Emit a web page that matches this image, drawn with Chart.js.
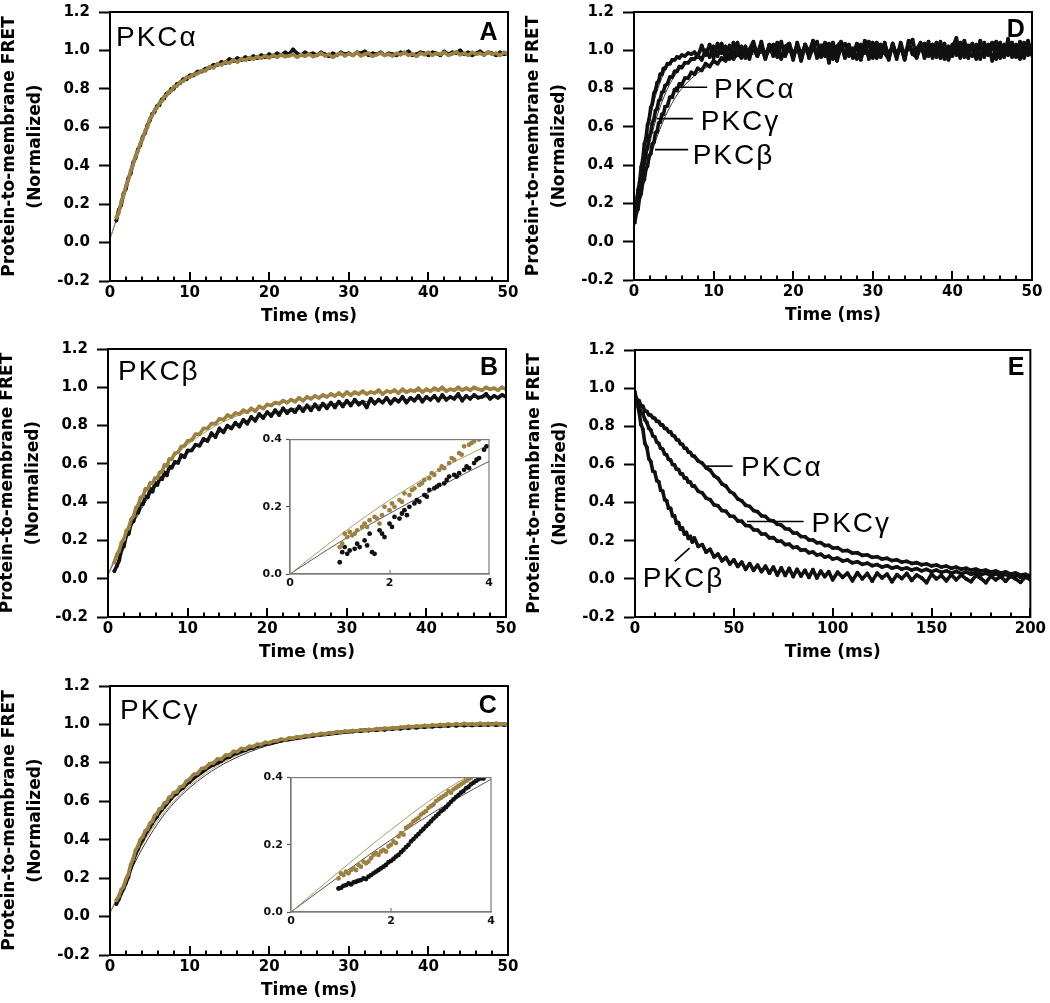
<!DOCTYPE html>
<html><head><meta charset="utf-8">
<script src="https://cdn.jsdelivr.net/npm/chart.js@4.4.1/dist/chart.umd.min.js"></script>
<style>
html,body{margin:0;padding:0;background:#fff;}
#fig{position:relative;width:1050px;height:1003px;overflow:hidden;background:#fff;}
canvas{position:absolute;}
</style></head><body>
<div id="fig">
<canvas id="cA" width="528" height="333" style="left:-4px;top:-6px"></canvas>
<canvas id="cD" width="528" height="332" style="left:520px;top:-6px"></canvas>
<canvas id="cB" width="528" height="332" style="left:-6px;top:331px"></canvas>
<canvas id="cE" width="528" height="331" style="left:521px;top:332px"></canvas>
<canvas id="cC" width="528" height="333" style="left:-4px;top:668px"></canvas>
<canvas id="cBi" width="239" height="165" style="left:258px;top:429px"></canvas>
<canvas id="cCi" width="240" height="165" style="left:259px;top:767px"></canvas>
</div>
<script>
// ---------------- tick labels / texts ----------------
const TITLE_Y = ['Protein-to-membrane FRET', '(Normalized)'];
const TITLE_X = 'Time (ms)';
const Y_TICKS = [-0.2, 0, 0.2, 0.4, 0.6, 0.8, 1.0, 1.2];
const Y_TICK_LABELS = ['-0.2', '0.0', '0.2', '0.4', '0.6', '0.8', '1.0', '1.2'];
const X_TICKS_50 = [0, 10, 20, 30, 40, 50];
const X_MINOR_50 = [2, 4, 6, 8, 12, 14, 16, 18, 22, 24, 26, 28, 32, 34, 36, 38, 42, 44, 46, 48];
const X_TICKS_200 = [0, 50, 100, 150, 200];
const X_MINOR_200 = [10, 20, 30, 40, 60, 70, 80, 90, 110, 120, 130, 140, 160, 170, 180, 190];
const INSET_X_TICKS = [0, 2, 4];
const INSET_Y_TICKS = [0, 0.2, 0.4];
const INSET_Y_LABELS = ['0.0', '0.2', '0.4'];

// ---------------- panels A, B, C (time in ms) ----------------
const TIME_ABC = [0.8,1.1,1.4,1.7,2.0,2.3,2.6,2.9,3.2,3.5,
 3.8,4.1,4.4,4.7,5.0,5.3,5.6,5.9,6.2,6.5,
 6.8,7.1,7.4,7.7,8.0,8.4,8.8,9.2,9.6,10.0,
 10.5,11,11.5,12,12.5,13,13.5,14,14.5,15,
 15.5,16,16.5,17,17.5,18,18.5,19,19.5,20,
 20.5,21,21.5,22,22.5,23,23.5,24,24.5,25,
 25.5,26,26.5,27,27.5,28,28.5,29,29.5,30,
 30.5,31,31.5,32,32.5,33,33.5,34,34.5,35,
 35.5,36,36.5,37,37.5,38,38.5,39,39.5,40,
 40.5,41,41.5,42,42.5,43,43.5,44,44.5,45,
 45.5,46,46.5,47,47.5,48,48.5,49,49.5,50];

const A_GOLD = [.13,.155,.21,.245,.295,.325,.375,.405,.45,.475,
 .515,.54,.58,.60,.645,.66,.69,.70,.725,.735,
 .76,.765,.785,.79,.81,.815,.835,.84,.86,.86,
 .875,.88,.895,.895,.915,.91,.93,.925,.94,.935,
 .95,.94,.955,.95,.962,.955,.968,.96,.972,.962,
 .975,.965,.978,.968,.972,.98,.965,.978,.97,.982,
 .968,.975,.985,.972,.98,.965,.978,.985,.972,.982,
 .975,.99,.972,.98,.985,.97,.978,.986,.975,.98,
 .972,.985,.978,.99,.975,.982,.97,.985,.978,.99,
 .975,.985,.98,.99,.975,.982,.992,.978,.985,.975,
 .99,.98,.985,.975,.992,.98,.985,.975,.99,.982];
const A_BLACK = [.115,.17,.195,.255,.28,.335,.36,.415,.44,.485,
 .505,.55,.57,.61,.635,.67,.68,.71,.715,.745,
 .75,.775,.78,.80,.80,.825,.83,.85,.85,.87,
 .87,.89,.89,.905,.91,.925,.925,.94,.935,.955,
 .945,.96,.95,.965,.955,.97,.96,.975,.965,.98,
 .97,.985,.975,.99,.98,1.005,.985,.975,.99,.98,
 .985,.975,.99,.98,.97,.985,.975,.99,.98,.985,
 .975,.99,.985,.995,.975,.985,.98,.99,.975,.985,
 .98,.975,.99,.985,.995,.975,.98,.99,.985,.975,
 .99,.985,.975,.995,.98,.99,.985,1.0,.98,.99,
 .975,.985,.995,.98,.99,.985,.975,.99,.98,.985];

const B_GOLD = [.085,.125,.145,.19,.205,.25,.265,.31,.325,.37,
 .385,.425,.43,.47,.47,.50,.50,.525,.525,.555,
 .56,.595,.59,.625,.625,.655,.66,.69,.695,.72,
 .725,.755,.755,.785,.785,.81,.81,.835,.83,.855,
 .845,.865,.86,.88,.87,.89,.875,.9,.89,.91,
 .905,.92,.915,.93,.92,.935,.925,.945,.93,.95,
 .94,.955,.945,.96,.95,.965,.955,.97,.955,.975,
 .96,.975,.965,.98,.965,.975,.97,.985,.965,.98,
 .975,.985,.97,.99,.975,.985,.98,.995,.975,.99,
 .98,.995,.985,1.0,.98,.99,.985,1.0,.985,.995,
 .985,1.0,.99,.985,1.0,.99,.995,.985,1.0,.99];
const B_BLACK = [.04,.065,.095,.15,.17,.225,.235,.29,.30,.35,
 .345,.39,.39,.43,.425,.47,.455,.5,.49,.525,
 .52,.555,.54,.585,.58,.61,.605,.645,.635,.67,
 .67,.70,.695,.73,.72,.76,.74,.785,.765,.80,
 .785,.815,.795,.83,.81,.845,.825,.86,.84,.87,
 .85,.88,.855,.89,.865,.885,.87,.9,.875,.905,
 .88,.91,.885,.915,.89,.92,.895,.925,.9,.93,
 .905,.935,.91,.925,.895,.94,.915,.935,.92,.945,
 .915,.94,.925,.95,.92,.945,.93,.955,.925,.95,
 .935,.955,.93,.96,.935,.95,.94,.965,.93,.955,
 .94,.96,.945,.95,.965,.94,.955,.945,.96,.95];

const C_GOLD = [.085,.105,.14,.155,.195,.22,.27,.30,.345,.365,
 .40,.415,.445,.455,.485,.495,.525,.535,.56,.565,
 .59,.595,.62,.625,.645,.65,.675,.68,.705,.715,
 .74,.745,.77,.775,.795,.80,.82,.82,.84,.84,
 .86,.858,.875,.872,.886,.885,.897,.895,.907,.905,
 .913,.915,.923,.92,.93,.928,.936,.934,.942,.94,
 .948,.946,.953,.95,.957,.955,.962,.958,.965,.963,
 .968,.966,.972,.969,.974,.972,.978,.975,.98,.977,
 .983,.98,.986,.984,.99,.987,.992,.989,.995,.991,
 .997,.994,.999,.996,1.002,.997,1.004,.998,1.005,.999,
 1.004,.998,1.006,1.0,1.005,.999,1.006,1.001,1.004,1.0];
const C_BLACK = [.065,.09,.12,.145,.175,.205,.25,.285,.325,.35,
 .38,.40,.425,.445,.465,.485,.505,.52,.54,.555,
 .57,.585,.60,.615,.63,.64,.66,.67,.69,.70,
 .72,.735,.75,.765,.78,.79,.80,.81,.825,.83,
 .845,.85,.86,.865,.875,.878,.888,.89,.898,.9,
 .905,.91,.915,.918,.922,.925,.928,.932,.935,.938,
 .94,.944,.946,.948,.95,.953,.955,.958,.96,.962,
 .963,.966,.965,.97,.968,.972,.97,.975,.972,.978,
 .976,.98,.978,.984,.98,.986,.983,.989,.985,.99,
 .988,.993,.99,.995,.992,.997,.993,.998,.994,.999,
 .995,1.0,.996,1.0,.997,1.002,.996,1.001,.997,1.0];

const FIT_TIME_ABC = [0,0.5,1,2,3,4,5,6,8,10,12,15,20,25,30,40,50];
const A_FIT_GOLD  = [0.02,0.085,0.15,0.285,0.42,0.535,0.635,0.71,0.81,0.865,0.9,0.94,0.965,0.975,0.978,0.982,0.983];
const A_FIT_BLACK = [0.02,0.08,0.145,0.28,0.415,0.535,0.635,0.715,0.815,0.87,0.905,0.945,0.97,0.98,0.982,0.985,0.986];
const B_FIT_GOLD  = [0.02,0.075,0.125,0.225,0.32,0.40,0.47,0.53,0.625,0.70,0.76,0.83,0.90,0.94,0.96,0.98,0.99];
const B_FIT_BLACK = [0.02,0.065,0.11,0.195,0.275,0.35,0.42,0.48,0.58,0.655,0.715,0.785,0.86,0.9,0.92,0.94,0.952];
const C_FIT_GOLD  = [0.02,0.065,0.11,0.2,0.29,0.37,0.44,0.5,0.6,0.68,0.745,0.82,0.9,0.945,0.97,0.99,1.0];
const C_FIT_BLACK = [0.02,0.06,0.1,0.185,0.27,0.35,0.42,0.485,0.59,0.67,0.735,0.81,0.893,0.94,0.965,0.988,0.998];

// ---------------- panel D ----------------
const TIME_D = [0.1,0.3,0.5,0.7,0.9,1.1,1.3,1.5,1.7,1.9,
 2.1,2.3,2.5,2.7,2.9,3.1,3.3,3.5,3.7,3.9,
 4.2,4.5,4.8,5.1,5.4,5.7,6.0,6.4,6.8,7.2,
 7.6,8.0,8.5,9.0,9.5,10,10.5,11,11.5,12,
 12.5,13,13.5,14,14.5,15,15.5,16,16.5,17,
 17.5,18,18.5,19,19.5,20,20.5,21,21.5,22,
 22.5,23,23.5,24,24.5,25,25.5,26,26.5,27,
 27.5,28,28.5,29,29.5,30,30.5,31,31.5,32,
 32.5,33,33.5,34,34.5,35,35.5,36,36.5,37,
 37.5,38,38.5,39,39.5,40,40.5,41,41.5,42,
 42.5,43,43.5,44,44.5,45,45.5,46,46.5,47,
 47.5,48,48.5,49,49.5,50];
const D_FAST = [.15,.19,.27,.31,.39,.43,.51,.54,.61,.64,
 .70,.72,.775,.79,.83,.84,.875,.875,.905,.905,
 .93,.93,.95,.95,.965,.96,.975,.97,.985,.98,
 .99,.965,1.025,.975,1.03,.96,1.035,.985,1.02,.955,
 1.04,.975,1.02,.96,1.005,1.045,.97,1.015,.955,1.03,
 .98,1.04,.96,1.01,1.035,.965,1.025,.95,1.03,.99,
 1.05,.97,1.005,1.04,.96,1.02,.945,1.015,1.035,.97,
 1.01,.955,1.03,.985,1.045,.96,1.02,.975,1.04,.95,
 1.035,.97,1.02,.955,1.05,.98,1.005,1.04,.96,1.02,
 .975,1.04,.96,1.025,.95,1.015,1.065,.97,1.03,.96,
 1.035,.975,1.05,.965,1.01,1.04,.955,1.025,.97,1.06,
 .965,1.03,.955,1.04,.975,1.02];
const D_MID = [.12,.18,.21,.28,.31,.38,.41,.47,.49,.55,
 .57,.62,.64,.685,.695,.735,.745,.78,.785,.815,
 .825,.86,.86,.89,.89,.915,.91,.935,.935,.955,
 .955,.975,.95,1.0,.965,1.02,.97,1.035,.96,1.025,
 .97,1.04,.965,1.02,.955,1.035,.98,1.045,.96,1.01,
 1.03,.965,1.045,.97,1.02,.95,1.04,.975,1.025,.96,
 1.015,1.045,.965,1.03,.935,1.04,.97,1.035,.96,1.02,
 .96,1.03,.97,1.05,.955,1.015,1.04,.965,1.03,.975,
 1.025,.955,1.04,.97,1.03,1.055,.96,1.015,1.035,.97,
 1.03,.965,1.045,.955,1.02,.97,1.035,.96,1.05,.985,
 .97,1.03,.955,1.04,.975,1.02,1.045,.96,1.03,.975,
 1.04,.965,1.03,.97,1.05,.98];
const D_SLOW = [.1,.15,.17,.23,.25,.31,.325,.38,.395,.45,
 .46,.51,.52,.57,.575,.62,.625,.665,.665,.705,
 .71,.755,.755,.795,.79,.825,.82,.855,.855,.885,
 .875,.905,.895,.93,.915,.945,.93,.96,.945,.975,
 .955,.985,.96,1.0,.965,1.01,.97,1.02,.965,1.025,
 .97,1.03,.955,1.02,1.035,.97,1.025,.945,1.03,.975,
 1.04,.96,1.025,.97,1.035,.955,1.02,1.045,.965,1.03,
 .975,1.035,.95,1.025,.97,1.04,.96,1.03,.985,.955,
 1.035,.97,1.025,.95,1.04,.98,.965,1.03,.975,1.045,
 .96,1.025,.97,1.035,.955,1.03,.975,1.04,.965,1.025,
 1.02,.955,1.035,.97,1.03,.945,1.025,1.04,.965,1.02,
 1.03,.97,1.045,.96,1.02,.975];
const FIT_TIME_D = [0,0.5,1,1.5,2,2.5,3,4,5,6,8,10,15,20,50];
const D_FIT_FAST = [0.2,0.28,0.41,0.53,0.64,0.73,0.8,0.9,0.945,0.97,0.99,0.995,1.0,1.0,1.0];
const D_FIT_MID  = [0.18,0.25,0.34,0.43,0.52,0.6,0.67,0.78,0.86,0.91,0.96,0.98,0.995,1.0,1.0];
const D_FIT_SLOW = [0.15,0.21,0.28,0.36,0.43,0.5,0.56,0.66,0.74,0.8,0.88,0.93,0.98,0.99,1.0];

// ---------------- panel E ----------------
const TIME_E = [0,1,2,3,4,5,6,7,8,9,
 10,11,12,13,14,15,16,17,18,19,
 20,21,22,23,24,25,26,27,28,29,
 30,32,34,36,38,40,42,44,46,48,
 50,52,54,56,58,60,62,64,66,68,
 70,72,74,76,78,80,82,84,86,88,
 90,92,94,96,98,100,102.5,105,107.5,110,
 112.5,115,117.5,120,122.5,125,127.5,130,132.5,135,
 137.5,140,142.5,145,147.5,150,152.5,155,157.5,160,
 162.5,165,167.5,170,172.5,175,177.5,180,182.5,185,
 187.5,190,192.5,195,197.5,200];
const E_ALPHA = [.965,.94,.935,.91,.905,.88,.878,.86,.858,.845,
 .842,.826,.825,.808,.806,.789,.788,.771,.77,.752,
 .748,.73,.727,.708,.705,.686,.684,.665,.663,.646,
 .643,.618,.607,.582,.57,.541,.527,.498,.486,.458,
 .446,.419,.409,.386,.38,.358,.352,.331,.327,.307,
 .304,.286,.282,.263,.26,.241,.24,.222,.221,.204,
 .204,.189,.19,.175,.176,.162,.163,.147,.149,.135,
 .137,.123,.126,.113,.116,.104,.108,.096,.1,.088,
 .092,.081,.085,.074,.079,.068,.073,.062,.067,.056,
 .062,.051,.056,.046,.051,.041,.046,.036,.041,.031,
 .036,.026,.031,.02,.024,.014];
const E_GAMMA = [.955,.925,.91,.875,.865,.835,.82,.79,.78,.75,
 .745,.717,.71,.685,.68,.655,.65,.627,.623,.6,
 .597,.575,.573,.551,.55,.529,.528,.507,.507,.487,
 .488,.459,.451,.423,.415,.388,.383,.358,.354,.33,
 .327,.304,.302,.28,.278,.257,.256,.235,.235,.215,
 .216,.197,.198,.18,.182,.164,.167,.15,.153,.137,
 .141,.125,.129,.114,.119,.104,.109,.094,.099,.084,
 .09,.076,.082,.069,.075,.062,.069,.056,.063,.051,
 .058,.046,.054,.042,.05,.038,.046,.034,.042,.031,
 .039,.027,.036,.024,.033,.021,.03,.018,.027,.015,
 .024,.012,.021,.009,.018,.007];
const E_BETA = [.98,.92,.88,.81,.785,.71,.69,.63,.615,.565,
 .56,.515,.51,.465,.46,.415,.41,.37,.37,.33,
 .33,.292,.295,.26,.267,.235,.243,.212,.222,.193,
 .215,.17,.18,.14,.155,.115,.13,.095,.112,.078,
 .1,.065,.088,.05,.08,.045,.072,.038,.066,.03,
 .062,.02,.058,.018,.055,.012,.05,.015,.045,.008,
 .048,.005,.04,.012,.038,-.005,.035,.008,.03,-.01,
 .032,0,.028,-.012,.03,.005,.025,-.015,.022,.002,
 .028,-.008,.02,.005,-.02,.025,0,.018,-.01,.022,
 -.005,.02,0,-.015,.018,.002,-.02,.015,-.005,.012,
 -.012,.015,0,-.018,.01,-.005];

// ---------------- insets (B and C) ----------------
const INSET_B_GOLD_TIME = [1.0,1.05,1.1,1.15,1.2,1.25,1.3,1.35,1.45,1.5,
 1.55,1.6,1.7,1.75,1.8,1.85,1.9,2.0,2.05,2.1,
 2.2,2.25,2.3,2.4,2.45,2.5,2.6,2.65,2.7,2.8,
 2.85,2.9,3.0,3.05,3.1,3.2,3.25,3.3,3.4,3.45,
 3.5,3.6,3.65,3.7,3.8];
const INSET_B_GOLD = [.08,.09,.12,.11,.125,.115,.12,.13,.14,.15,
 .14,.16,.17,.165,.15,.175,.20,.19,.21,.20,
 .22,.215,.24,.235,.25,.255,.265,.27,.28,.285,
 .30,.295,.31,.32,.315,.33,.345,.34,.36,.355,
 .38,.385,.39,.395,.40];
const INSET_B_BLACK_TIME = [1.0,1.05,1.1,1.15,1.2,1.3,1.35,1.4,1.5,1.55,
 1.6,1.65,1.7,1.8,1.85,1.9,2.0,2.05,2.1,2.2,
 2.25,2.3,2.35,2.4,2.5,2.55,2.6,2.7,2.75,2.8,
 2.9,2.95,3.0,3.1,3.15,3.2,3.3,3.35,3.4,3.5,
 3.55,3.6,3.7,3.75,3.8,3.9,3.95];
const INSET_B_BLACK = [.035,.065,.08,.06,.07,.075,.09,.08,.10,.085,
 .12,.065,.06,.13,.12,.11,.15,.14,.17,.165,
 .18,.19,.175,.20,.21,.22,.215,.235,.23,.25,
 .255,.26,.265,.27,.28,.29,.295,.29,.30,.31,
 .32,.315,.33,.34,.345,.37,.38];
const INSET_FIT_TIME = [0, 1, 2, 3, 4];
const INSET_B_FIT_GOLD  = [0, 0.115, 0.22, 0.31, 0.385];
const INSET_B_FIT_BLACK = [0, 0.095, 0.18, 0.26, 0.335];

const INSET_C_GOLD_TIME = [0.95,1.0,1.05,1.1,1.15,1.2,1.25,1.3,1.35,1.4,
 1.45,1.5,1.55,1.6,1.65,1.7,1.75,1.8,1.85,1.9,
 1.95,2.0,2.05,2.1,2.15,2.2,2.25,2.3,2.35,2.4,
 2.45,2.5,2.55,2.6,2.65,2.7,2.75,2.8,2.85,2.9,
 2.95,3.0,3.05,3.1,3.15,3.2,3.25,3.3,3.35,3.4,
 3.45,3.5,3.55,3.6];
const INSET_C_GOLD = [.1,.115,.11,.12,.115,.125,.13,.125,.14,.135,
 .15,.145,.15,.16,.17,.175,.17,.18,.185,.18,
 .195,.2,.21,.205,.225,.235,.23,.25,.255,.26,
 .27,.275,.28,.29,.295,.30,.31,.315,.32,.33,
 .335,.34,.345,.35,.36,.355,.365,.37,.375,.38,
 .385,.39,.395,.40];
const INSET_C_BLACK_TIME = [0.95,1.0,1.05,1.1,1.15,1.2,1.25,1.3,1.35,1.4,
 1.45,1.5,1.55,1.6,1.65,1.7,1.75,1.8,1.85,1.9,
 1.95,2.0,2.05,2.1,2.15,2.2,2.25,2.3,2.35,2.4,
 2.45,2.5,2.55,2.6,2.65,2.7,2.75,2.8,2.85,2.9,
 2.95,3.0,3.05,3.1,3.15,3.2,3.25,3.3,3.35,3.4,
 3.45,3.5,3.55,3.6,3.65,3.7,3.75,3.8,3.85];
const INSET_C_BLACK = [.07,.072,.078,.08,.085,.082,.088,.09,.093,.095,
 .1,.098,.105,.11,.115,.12,.125,.13,.135,.14,
 .148,.152,.158,.165,.17,.178,.185,.193,.2,.21,
 .217,.225,.232,.24,.247,.255,.262,.27,.278,.285,
 .292,.3,.305,.312,.32,.328,.335,.342,.348,.355,
 .36,.368,.372,.38,.385,.39,.395,.398,.397];
const INSET_C_FIT_GOLD_TIME = [0, 1, 2, 3, 3.5];
const INSET_C_FIT_GOLD  = [0, 0.125, 0.245, 0.355, 0.4];
const INSET_C_FIT_BLACK = [0, 0.11, 0.215, 0.31, 0.395];

// ---------------- styling ----------------
const BLACK = '#111111';
const GOLD = '#9c8242';
const FIT_GOLD_COLOR = '#b29b62';
const FIT_BLACK_COLOR = '#3a3a3a';
const BOLD_FAMILY = '"DejaVu Sans", Verdana, sans-serif';
const LABEL_FONT = '28px "Liberation Sans", Arial, sans-serif';
const LETTER_FONT = 'bold 25px "Liberation Sans", Arial, sans-serif';

function pts(T, Y) {
  const n = Math.min(T.length, Y.length);
  const out = [];
  for (let i = 0; i < n; i++) out.push({x: T[i], y: Y[i]});
  return out;
}
function traceDS(T, Y, color, lw, pr) {
  return {data: pts(T, Y), showLine: true, borderColor: color, backgroundColor: color,
    borderWidth: lw, pointRadius: pr, pointBorderWidth: 0, pointBackgroundColor: color,
    pointHoverRadius: 0, tension: 0, borderJoinStyle: 'round', borderCapStyle: 'round'};
}
function dotsDS(T, Y, color, pr) {
  return {data: pts(T, Y), showLine: false, backgroundColor: color, borderColor: color,
    pointRadius: pr, pointBorderWidth: 0, pointBackgroundColor: color, pointHoverRadius: 0};
}
function fitDS(T, Y, color, lw) {
  return {data: pts(T, Y), showLine: true, borderColor: color, borderWidth: lw,
    pointRadius: 0, cubicInterpolationMode: 'monotone', fill: false};
}

const decoPlugin = {
  id: 'panelDeco',
  afterDatasetsDraw(chart, args, o) {
    if (!o || !o.on) return;
    const {ctx, chartArea: a} = chart;
    const xs = chart.scales.x, ys = chart.scales.y;
    ctx.save();
    ctx.strokeStyle = o.frameColor; ctx.lineWidth = o.frameWidth;
    ctx.strokeRect(a.left, a.top, a.right - a.left, a.bottom - a.top);
    ctx.lineWidth = o.tickWidth;
    const tick = (v, len) => {
      const px = Math.round(xs.getPixelForValue(v));
      ctx.beginPath(); ctx.moveTo(px, a.bottom); ctx.lineTo(px, a.bottom - len); ctx.stroke();
    };
    (o.major || []).forEach(v => tick(v, o.majorLen));
    (o.minor || []).forEach(v => tick(v, o.minorLen));
    ctx.strokeStyle = '#000'; ctx.lineWidth = 1.6;
    (o.leaders || []).forEach(l => {
      ctx.beginPath();
      ctx.moveTo(xs.getPixelForValue(l.x1), ys.getPixelForValue(l.y1));
      ctx.lineTo(xs.getPixelForValue(l.x2), ys.getPixelForValue(l.y2));
      ctx.stroke();
    });
    ctx.fillStyle = '#000'; ctx.textBaseline = 'alphabetic';
    (o.texts || []).forEach(t => {
      ctx.font = t.font; ctx.textAlign = t.align || 'left';
      if ('letterSpacing' in ctx) ctx.letterSpacing = t.spacing || '0px';
      ctx.fillText(t.text, xs.getPixelForValue(t.x), ys.getPixelForValue(t.y));
    });
    if ('letterSpacing' in ctx) ctx.letterSpacing = '0px';
    ctx.restore();
  }
};

function mainChart(id, c) {
  return new Chart(document.getElementById(id), {
    type: 'scatter',
    data: {datasets: c.datasets},
    options: {
      responsive: false, animation: false, events: [],
      layout: {padding: {top: 12, right: 16, left: 0, bottom: 0}},
      plugins: {legend: {display: false}, tooltip: {enabled: false},
        panelDeco: Object.assign({on: true, frameColor: '#000', frameWidth: 2, tickWidth: 2, majorLen: 9, minorLen: 4.5}, c.deco)},
      scales: {
        x: {type: 'linear', position: 'bottom', min: c.xMin, max: c.xMax,
          afterBuildTicks: s => { s.ticks = c.xTicks.map(v => ({value: v})); },
          afterFit: s => { s.height = 46; },
          ticks: {color: '#000', font: {family: BOLD_FAMILY, weight: 'bold', size: 15}, padding: 3,
            maxRotation: 0, autoSkip: false, callback: v => String(v)},
          grid: {display: true, drawOnChartArea: false, drawTicks: false},
          border: {display: true, color: '#000', width: 2},
          title: {display: true, text: TITLE_X, color: '#000', padding: 0,
            font: {family: BOLD_FAMILY, weight: 'bold', size: 17}}},
        y: {type: 'linear', position: 'left', min: -0.2, max: 1.2,
          afterBuildTicks: s => { s.ticks = Y_TICKS.map(v => ({value: v})); },
          afterFit: s => { s.width = 114; },
          ticks: {color: '#000', font: {family: BOLD_FAMILY, weight: 'bold', size: 15}, padding: 9,
            autoSkip: false, callback: (v, i) => Y_TICK_LABELS[i]},
          grid: {display: true, drawOnChartArea: false, drawTicks: true, tickLength: 11,
            tickWidth: 2, tickColor: '#000', color: '#000'},
          border: {display: true, color: '#000', width: 2},
          title: {display: true, text: TITLE_Y, color: '#000', padding: {top: 0, bottom: 0},
            font: {family: BOLD_FAMILY, weight: 'bold', size: 17, lineHeight: 1.55}}}
      }
    },
    plugins: [decoPlugin]
  });
}

function insetChart(id, datasets) {
  return new Chart(document.getElementById(id), {
    type: 'scatter',
    data: {datasets},
    options: {
      responsive: false, animation: false, events: [],
      layout: {padding: {top: 8, right: 8, left: 0, bottom: 0}},
      plugins: {legend: {display: false}, tooltip: {enabled: false},
        panelDeco: {on: true, frameColor: '#7a7a7a', frameWidth: 1.2, tickWidth: 1.2, majorLen: 4, minorLen: 0, major: [2]}},
      scales: {
        x: {type: 'linear', min: 0, max: 4,
          afterBuildTicks: s => { s.ticks = INSET_X_TICKS.map(v => ({value: v})); },
          afterFit: s => { s.height = 20; },
          ticks: {color: '#111', font: {family: BOLD_FAMILY, weight: 'bold', size: 11}, padding: 3,
            maxRotation: 0, autoSkip: false, callback: v => String(v)},
          grid: {display: true, drawOnChartArea: false, drawTicks: false},
          border: {display: true, color: '#7a7a7a', width: 1.2},
          title: {display: false}},
        y: {type: 'linear', min: 0, max: 0.4,
          afterBuildTicks: s => { s.ticks = INSET_Y_TICKS.map(v => ({value: v})); },
          afterFit: s => { s.width = 32; },
          ticks: {color: '#111', font: {family: BOLD_FAMILY, weight: 'bold', size: 11}, padding: 4,
            autoSkip: false, callback: (v, i) => INSET_Y_LABELS[i]},
          grid: {display: true, drawOnChartArea: false, drawTicks: true, tickLength: 4,
            tickWidth: 1.2, tickColor: '#555', color: '#555'},
          border: {display: true, color: '#7a7a7a', width: 1.2},
          title: {display: false}}
      }
    },
    plugins: [decoPlugin]
  });
}

const LW = 3.6, PR = 1.9;

mainChart('cA', {
  xMin: 0, xMax: 50, xTicks: X_TICKS_50,
  deco: {major: X_TICKS_50, minor: X_MINOR_50,
    texts: [{text: 'PKCα', x: 0.75, y: 1.023, font: LABEL_FONT, spacing: '2px'},
            {text: 'A', x: 48.7, y: 1.052, font: LETTER_FONT, align: 'right'}]},
  datasets: [traceDS(TIME_ABC, A_GOLD, GOLD, LW, PR), traceDS(TIME_ABC, A_BLACK, BLACK, LW, PR),
    fitDS(FIT_TIME_ABC, A_FIT_GOLD, FIT_GOLD_COLOR, 1), fitDS(FIT_TIME_ABC, A_FIT_BLACK, FIT_BLACK_COLOR, 1)]
});
mainChart('cB', {
  xMin: 0, xMax: 50, xTicks: X_TICKS_50,
  deco: {major: X_TICKS_50, minor: X_MINOR_50,
    texts: [{text: 'PKCβ', x: 1.26, y: 1.037, font: LABEL_FONT, spacing: '2px'},
            {text: 'B', x: 49.0, y: 1.062, font: LETTER_FONT, align: 'right'}]},
  datasets: [traceDS(TIME_ABC, B_GOLD, GOLD, LW, PR), traceDS(TIME_ABC, B_BLACK, BLACK, LW, PR),
    fitDS(FIT_TIME_ABC, B_FIT_GOLD, FIT_GOLD_COLOR, 1), fitDS(FIT_TIME_ABC, B_FIT_BLACK, FIT_BLACK_COLOR, 1)]
});
mainChart('cC', {
  xMin: 0, xMax: 50, xTicks: X_TICKS_50,
  deco: {major: X_TICKS_50, minor: X_MINOR_50,
    texts: [{text: 'PKCγ', x: 1.26, y: 1.03, font: LABEL_FONT, spacing: '2px'},
            {text: 'C', x: 48.6, y: 1.058, font: LETTER_FONT, align: 'right'}]},
  datasets: [traceDS(TIME_ABC, C_GOLD, GOLD, LW, PR), traceDS(TIME_ABC, C_BLACK, BLACK, LW, PR),
    fitDS(FIT_TIME_ABC, C_FIT_GOLD, FIT_GOLD_COLOR, 1), fitDS(FIT_TIME_ABC, C_FIT_BLACK, FIT_BLACK_COLOR, 1)]
});
mainChart('cD', {
  xMin: 0, xMax: 50, xTicks: X_TICKS_50,
  deco: {major: X_TICKS_50, minor: X_MINOR_50,
    leaders: [{x1: 5.15, y1: 0.807, x2: 9.2, y2: 0.807}, {x1: 2.9, y1: 0.643, x2: 7.4, y2: 0.643},
              {x1: 2.64, y1: 0.481, x2: 6.8, y2: 0.481}],
    texts: [{text: 'D', x: 49.1, y: 1.067, font: LETTER_FONT, align: 'right'},
            {text: 'PKCα', x: 10.05, y: 0.75, font: LABEL_FONT, spacing: '2px'},
            {text: 'PKCγ', x: 8.38, y: 0.582, font: LABEL_FONT, spacing: '2px'},
            {text: 'PKCβ', x: 7.37, y: 0.408, font: LABEL_FONT, spacing: '2px'}]},
  datasets: [traceDS(TIME_D, D_FAST, BLACK, LW, PR), traceDS(TIME_D, D_MID, BLACK, LW, PR),
    traceDS(TIME_D, D_SLOW, BLACK, LW, PR),
    fitDS(FIT_TIME_D, D_FIT_FAST, FIT_BLACK_COLOR, 1), fitDS(FIT_TIME_D, D_FIT_MID, FIT_BLACK_COLOR, 1),
    fitDS(FIT_TIME_D, D_FIT_SLOW, FIT_BLACK_COLOR, 1)]
});
mainChart('cE', {
  xMin: 0, xMax: 200, xTicks: X_TICKS_200,
  deco: {major: X_TICKS_200, minor: X_MINOR_200,
    leaders: [{x1: 36.0, y1: 0.591, x2: 49.4, y2: 0.591}, {x1: 56.6, y1: 0.301, x2: 85.3, y2: 0.301},
              {x1: 20.1, y1: 0.092, x2: 27.6, y2: 0.161}],
    texts: [{text: 'E', x: 197, y: 1.067, font: LETTER_FONT, align: 'right'},
            {text: 'PKCα', x: 53.6, y: 0.538, font: LABEL_FONT, spacing: '2px'},
            {text: 'PKCγ', x: 89.3, y: 0.246, font: LABEL_FONT, spacing: '2px'},
            {text: 'PKCβ', x: 3.9, y: -0.041, font: LABEL_FONT, spacing: '2px'}]},
  datasets: [traceDS(TIME_E, E_ALPHA, BLACK, LW, PR), traceDS(TIME_E, E_GAMMA, BLACK, LW, PR),
    traceDS(TIME_E, E_BETA, BLACK, LW, PR)]
});
insetChart('cBi', [
  dotsDS(INSET_B_GOLD_TIME, INSET_B_GOLD, GOLD, 2.4),
  dotsDS(INSET_B_BLACK_TIME, INSET_B_BLACK, BLACK, 2.4),
  fitDS(INSET_FIT_TIME, INSET_B_FIT_GOLD, FIT_GOLD_COLOR, 1),
  fitDS(INSET_FIT_TIME, INSET_B_FIT_BLACK, '#555', 1)
]);
insetChart('cCi', [
  dotsDS(INSET_C_GOLD_TIME, INSET_C_GOLD, GOLD, 2.4),
  dotsDS(INSET_C_BLACK_TIME, INSET_C_BLACK, BLACK, 2.4),
  fitDS(INSET_C_FIT_GOLD_TIME, INSET_C_FIT_GOLD, FIT_GOLD_COLOR, 1),
  fitDS(INSET_FIT_TIME, INSET_C_FIT_BLACK, '#555', 1)
]);
</script>
</body></html>
